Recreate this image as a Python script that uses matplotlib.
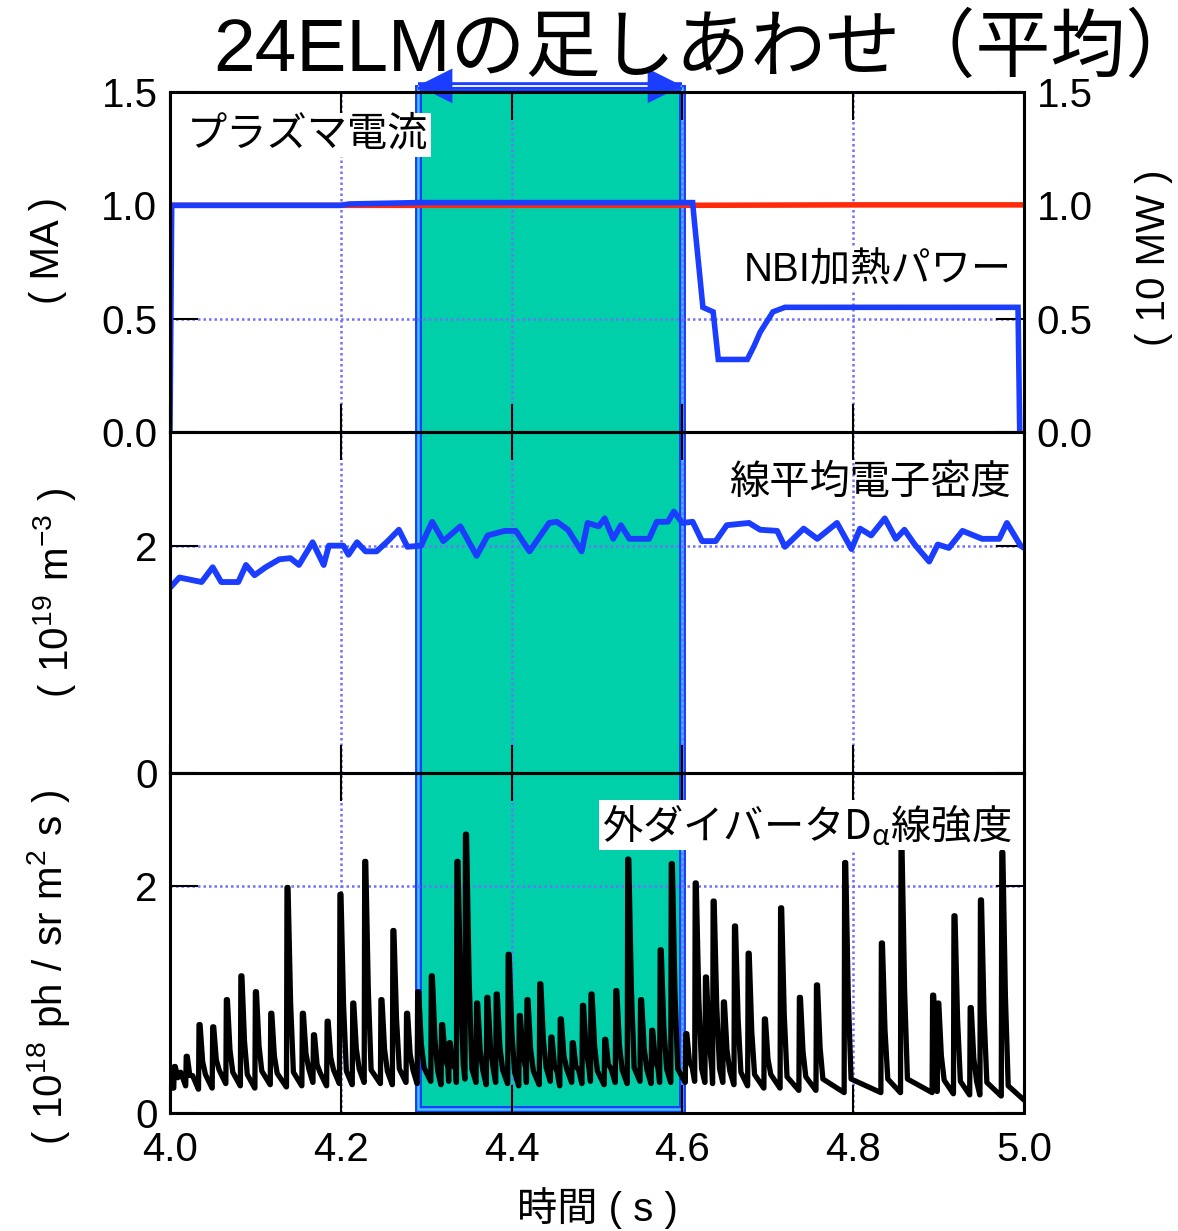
import matplotlib
matplotlib.use("Agg")
import matplotlib.pyplot as plt
import matplotlib.transforms as mtransforms
from matplotlib.patches import Rectangle

plt.rcParams["font.family"] = ["Liberation Sans", "Noto Sans CJK JP", "DejaVu Sans"]
plt.rcParams["mathtext.fontset"] = "custom"
plt.rcParams["mathtext.rm"] = "Liberation Sans"
plt.rcParams["mathtext.sf"] = "Noto Sans CJK JP"
plt.rcParams["mathtext.default"] = "rm"
plt.rcParams["axes.unicode_minus"] = False

BLUE = "#1a3dff"
RED = "#ff2a0a"
GREEN = "#00d0aa"
GRID = "#7070ff"

# averaging window over the 24 ELMs (s)
window = [4.29, 4.60]

# plasma current (MA)
ip_t = [4.0, 4.3, 4.6, 4.8, 5.0]
ip_v = [1.0, 1.0, 1.0, 1.002, 1.002]

# NBI heating power (10 MW)
nbi_t = [4.0, 4.002, 4.20, 4.21, 4.29, 4.612, 4.614, 4.624, 4.636, 4.642,
         4.676, 4.684, 4.691, 4.706, 4.72, 4.993, 4.995]
nbi_v = [0.0, 1.0, 1.0, 1.006, 1.012, 1.012, 0.93, 0.55, 0.53, 0.32,
         0.32, 0.38, 0.44, 0.53, 0.55, 0.55, 0.0]

# line-averaged electron density (1e19 m^-3)
ne_t = [4.000, 4.011, 4.037, 4.050, 4.060, 4.080, 4.089, 4.099, 4.112, 4.128,
        4.141, 4.151, 4.167, 4.180, 4.186, 4.203, 4.209, 4.219, 4.229, 4.242,
        4.255, 4.268, 4.278, 4.294, 4.307, 4.320, 4.340, 4.359, 4.372, 4.392,
        4.405, 4.421, 4.444, 4.453, 4.466, 4.482, 4.489, 4.502, 4.509, 4.519,
        4.528, 4.538, 4.561, 4.570, 4.583, 4.590, 4.600, 4.612, 4.623, 4.639,
        4.652, 4.678, 4.691, 4.711, 4.720, 4.742, 4.758, 4.781, 4.798, 4.808,
        4.821, 4.837, 4.850, 4.860, 4.872, 4.889, 4.899, 4.912, 4.928, 4.951,
        4.971, 4.980, 4.996, 5.000]
ne_v = [1.63, 1.72, 1.68, 1.81, 1.68, 1.68, 1.83, 1.74, 1.81, 1.88,
        1.89, 1.83, 2.03, 1.83, 2.00, 2.00, 1.92, 2.03, 1.95, 1.95,
        2.04, 2.14, 1.99, 2.00, 2.21, 2.04, 2.17, 1.91, 2.09, 2.13,
        2.13, 1.95, 2.20, 2.21, 2.14, 1.95, 2.20, 2.17, 2.24, 2.06,
        2.18, 2.06, 2.06, 2.21, 2.21, 2.30, 2.20, 2.21, 2.04, 2.04,
        2.18, 2.20, 2.14, 2.13, 1.99, 2.15, 2.06, 2.20, 1.97, 2.15,
        2.09, 2.24, 2.06, 2.14, 2.01, 1.86, 2.01, 1.98, 2.13, 2.06,
        2.06, 2.20, 2.00, 1.98]

# outer divertor D-alpha (1e18 ph/sr m2 s): ELM onset, peak and floor level
elm_t = [4.005, 4.019, 4.034, 4.050, 4.066, 4.083, 4.100, 4.118, 4.137, 4.155,
         4.168, 4.184, 4.199, 4.214, 4.228, 4.247, 4.261, 4.277, 4.290, 4.306,
         4.318, 4.327, 4.336, 4.346, 4.359, 4.371, 4.382, 4.396, 4.409, 4.418,
         4.433, 4.446, 4.457, 4.471, 4.483, 4.493, 4.509, 4.522, 4.536, 4.551,
         4.564, 4.574, 4.587, 4.604, 4.615, 4.627, 4.636, 4.648, 4.661, 4.677,
         4.696, 4.715, 4.737, 4.757, 4.790, 4.833, 4.856, 4.893, 4.899, 4.918,
         4.937, 4.949, 4.974]
elm_peak = [0.41, 0.50, 0.78, 0.76, 1.00, 1.21, 1.07, 0.88, 1.99, 0.88,
            0.69, 0.81, 1.93, 0.97, 2.22, 1.00, 1.61, 0.88, 1.07, 1.21,
            0.78, 0.62, 2.22, 2.46, 0.97, 1.02, 1.05, 1.40, 0.86, 1.00,
            1.14, 0.67, 0.83, 0.62, 0.95, 1.05, 0.65, 1.08, 2.24, 1.00,
            0.73, 1.44, 2.20, 0.70, 2.03, 1.20, 1.87, 0.98, 1.65, 1.41,
            0.83, 1.81, 1.02, 1.13, 2.21, 1.50, 2.32, 1.04, 0.97, 1.74,
            0.93, 1.88, 2.30]
elm_floor = [0.22, 0.24, 0.21, 0.22, 0.26, 0.24, 0.22, 0.25, 0.23, 0.24,
             0.27, 0.24, 0.26, 0.25, 0.27, 0.26, 0.25, 0.27, 0.26, 0.28,
             0.25, 0.28, 0.27, 0.30, 0.27, 0.25, 0.27, 0.26, 0.24, 0.27,
             0.25, 0.28, 0.24, 0.27, 0.26, 0.28, 0.25, 0.27, 0.26, 0.28,
             0.26, 0.27, 0.27, 0.27, 0.28, 0.27, 0.26, 0.27, 0.25, 0.24,
             0.22, 0.22, 0.20, 0.20, 0.18, 0.18, 0.18, 0.18, 0.19, 0.17,
             0.16, 0.16, 0.15]
elm_end_floor = 0.12


def elm_trace(times, peaks, floors, end_floor, t_end=5.0):
    """Polyline of sharp ELM bursts: vertical rise, fast fall, short tail."""
    tt, vv = [4.0], [floors[0]]
    next_t = list(times[1:]) + [t_end]
    next_f = list(floors[1:]) + [end_floor]
    for t, pk, f, tn, fn in zip(times, peaks, floors, next_t, next_f):
        shape = [(-0.0006, f), (0.0, pk), (0.0012, pk),
                 (0.0042, fn + 0.42 * (pk - fn)), (0.0075, fn + 0.12)]
        for dt, v in shape:
            if t + dt < tn - 0.0008:
                tt.append(t + dt)
                vv.append(v)
        tt.append(tn - 0.0008)
        vv.append(fn)
    return tt, vv


fig = plt.figure(figsize=(11.78, 12.31), dpi=100)
fig.patch.set_facecolor("white")
left, width = 0.14431, 0.72496
ax_top = fig.add_axes([left, 0.64907, width, 0.27620])
ax_mid = fig.add_axes([left, 0.37206, width, 0.27701])
ax_bot = fig.add_axes([left, 0.09586, width, 0.27620])

for ax in (ax_top, ax_mid, ax_bot):
    ax.set_facecolor("none")
    ax.set_xlim(4.0, 5.0)
    ax.set_xticks([4.0, 4.2, 4.4, 4.6, 4.8, 5.0])
    ax.tick_params(direction="in", length=20, width=1.5, top=True, right=True,
                   labelsize=29, pad=9, colors="black")
    ax.tick_params(axis="y", labelright=False)
    ax.grid(True, color=GRID, linestyle=(0, (1, 1.2)), linewidth=1.8, zorder=1)
    for sp in ax.spines.values():
        sp.set_linewidth(2.2)
        sp.set_zorder(5)
    if ax is not ax_bot:
        ax.tick_params(axis="x", labelbottom=False)

# top panel: plasma current and NBI power
ax_top.set_ylim(0, 1.5)
ax_top.set_yticks([0.0, 0.5, 1.0, 1.5])
ax_top.set_yticklabels(["0.0", "0.5", "1.0", "1.5"])
ax_top.tick_params(axis="y", labelright=True)
ax_top.plot(ip_t, ip_v, color=RED, lw=4.0, zorder=3)
ax_top.plot(nbi_t, nbi_v, color=BLUE, lw=4.0, zorder=4, solid_joinstyle="miter")
ax_top.text(0.02, 0.874, "プラズマ電流", transform=ax_top.transAxes, fontsize=29,
            ha="left", va="center", zorder=6,
            bbox=dict(facecolor="white", edgecolor="none", pad=2))
ax_top.text(0.986, 0.476, "NBI加熱パワー", transform=ax_top.transAxes, fontsize=29,
            ha="right", va="center", zorder=6,
            bbox=dict(facecolor="white", edgecolor="none", pad=2))

# middle panel: line-averaged density
ax_mid.set_ylim(0, 3)
ax_mid.set_yticks([0, 2])
ax_mid.plot(ne_t, ne_v, color=BLUE, lw=4.2, zorder=4)
ax_mid.text(0.986, 0.85, "線平均電子密度", transform=ax_mid.transAxes, fontsize=29,
            ha="right", va="center", zorder=6)

# bottom panel: divertor D-alpha
da_t, da_v = elm_trace(elm_t, elm_peak, elm_floor, elm_end_floor)
ax_bot.set_ylim(0, 3)
ax_bot.set_yticks([0, 2])
ax_bot.plot(da_t, da_v, color="black", lw=3.8, zorder=4)
ax_bot.text(0.986, 0.847, r"$\mathsf{外ダイバータD_{α}線強度}$",
            transform=ax_bot.transAxes, fontsize=29, ha="right", va="center",
            zorder=6, bbox=dict(facecolor="white", edgecolor="none", pad=2))
ax_bot.tick_params(axis="x", pad=13)

# shaded averaging window spanning all panels
span_tr = mtransforms.blended_transform_factory(ax_bot.transData, fig.transFigure)
y0, y1 = 0.0991, 0.9285
fig.add_artist(Rectangle((window[0], y0), window[1] - window[0], y1 - y0,
                         transform=span_tr, facecolor=GREEN, edgecolor="none",
                         zorder=-3))
fig.add_artist(Rectangle((window[0], y0), window[1] - window[0], y1 - y0,
                         transform=span_tr, fill=False, edgecolor=BLUE, lw=5,
                         zorder=-2))
fig.add_artist(Rectangle((window[0], y0), window[1] - window[0], y1 - y0,
                         transform=span_tr, fill=False, edgecolor="#3fc6ee", lw=1.8,
                         zorder=-1))

# double-headed arrow marking the window
arr_tr = ax_top.get_xaxis_transform()
ya = 1.018
ax_top.plot(window, [ya, ya], transform=arr_tr, color=BLUE, lw=5.5,
            clip_on=False, zorder=2, solid_capstyle="butt")
ax_top.plot(window, [ya, ya], transform=arr_tr, color="white", lw=1.3,
            clip_on=False, zorder=2.1, solid_capstyle="butt")
ax_top.annotate("", xy=(window[1], ya), xytext=(window[0], ya),
                xycoords=arr_tr, textcoords=arr_tr, annotation_clip=False,
                arrowprops=dict(arrowstyle="<|-|>,head_length=2.5,head_width=1.25",
                                mutation_scale=10, color=BLUE, lw=0,
                                shrinkA=0, shrinkB=0), zorder=2.2)

# axis labels
fig.text(48 / 1178, 1 - 250 / 1231, "( MA )", rotation=90, fontsize=29,
         ha="center", va="center")
fig.text(54 / 1178, 1 - 593 / 1231, r"$\mathrm{(\ 10^{19}\ m^{-3}\ )}$",
         rotation=90, fontsize=29, ha="center", va="center")
fig.text(49 / 1178, 1 - 967 / 1231, r"$\mathrm{(\ 10^{18}\ ph\ /\ sr\ m^{2}\ s\ )}$",
         rotation=90, fontsize=29, ha="center", va="center")
fig.text(1154 / 1178, 1 - 258 / 1231, "( 10 MW )", rotation=90, fontsize=29,
         ha="center", va="center")
fig.text(597 / 1178, 1 - 1208 / 1231, "時間 ( s )", fontsize=29,
         ha="center", va="center")

fig.text(0.600, 0.9595, "24ELMの足しあわせ（平均）", fontsize=54,
         ha="center", va="center")

fig.savefig("out.png", dpi=100)
